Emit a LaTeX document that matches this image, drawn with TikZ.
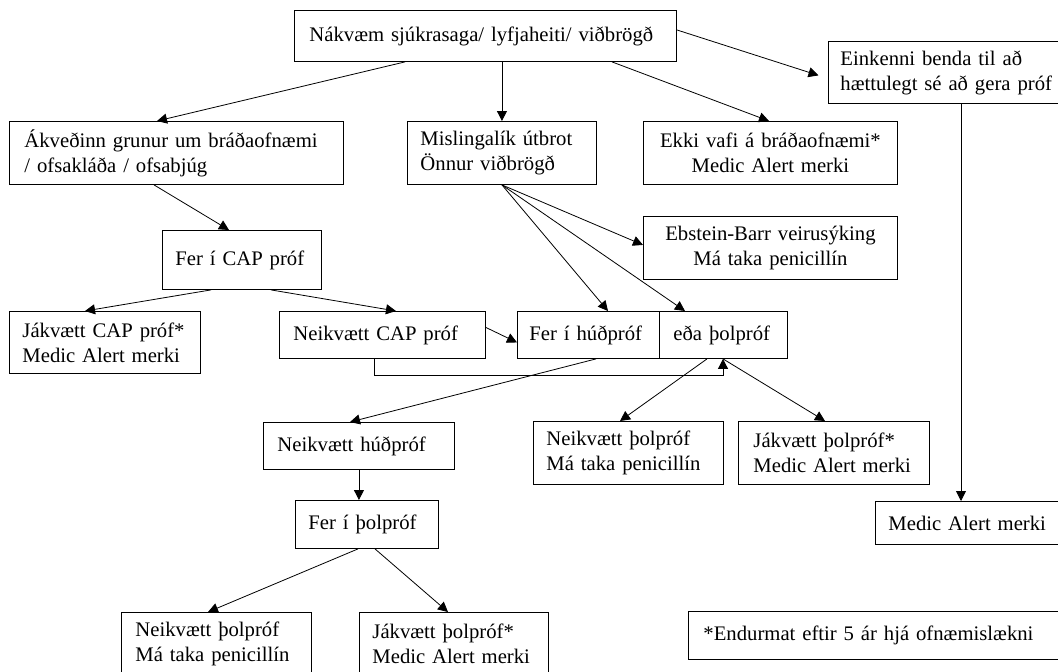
\documentclass[tikz,border=0pt]{standalone}
\usepackage{fontspec}
\setmainfont{Liberation Serif}
\usetikzlibrary{arrows.meta}

\begin{document}
\begin{tikzpicture}[
            x=1pt, y=-1pt,
            box/.style = {draw, line width=0.9pt, anchor=north west, align=left,
                          inner xsep=14pt, inner ysep=0pt, font=\fontsize{20.7}{25}\selectfont},
            cbox/.style = {box, align=center},
            openbox/.style = {box, draw=none},
            link/.style = {-{Triangle[length=10pt, width=10pt]}, line width=0.8pt},
        ]
            \useasboundingbox (0,0) rectangle (1058,672);

            % Top row
            \node[box, inner xsep=15pt, text width=352pt, minimum height=51pt] (hist) at (294,10) {Nákvæm sjúkrasaga/ lyfjaheiti/ viðbrögð};
            \node[box, inner xsep=12pt, text width=216pt, minimum height=62pt] (eink) at (828,41) {Einkenni benda til að\\hættulegt sé að gera próf};

            % Second row
            \node[box, inner xsep=15pt, text width=304pt, minimum height=63pt] (grun) at (9,121) {Ákveðinn grunur um bráðaofnæmi\\/ ofsakláða / ofsabjúg};
            \node[box, inner xsep=13pt, text width=163pt, minimum height=63pt] (mis) at (407,121) {Mislingalík útbrot\\Önnur viðbrögð};
            \node[cbox, text width=226pt, minimum height=63pt] (ekki) at (643,121) {Ekki vafi á bráðaofnæmi*\\Medic Alert merki};

            % CAP test and Epstein-Barr
            \node[box, inner xsep=13pt, text width=133pt, minimum height=59pt] (fcap) at (162,230) {Fer í CAP próf};
            \node[cbox, text width=226pt, minimum height=63pt] (ebst) at (643,216) {Ebstein-Barr veirusýking\\Má taka penicillín};

            % CAP results and skin / provocation test
            \node[box, inner xsep=13pt, text width=165pt, minimum height=62pt] (jcap) at (9,311) {Jákvætt CAP próf*\\Medic Alert merki};
            \node[box, text width=178pt, minimum height=47pt] (ncap) at (279,311) {Neikvætt CAP próf};
            \node[box, inner xsep=12pt, text width=118pt, minimum height=47pt] (hud) at (517,311) {Fer í húðpróf};
            \node[box, text width=100pt, minimum height=47pt] (thol) at (659,311) {eða þolpróf};

            % Provocation test results
            \node[box, inner xsep=13pt, text width=164pt, minimum height=63pt] (nthol) at (533,421) {Neikvætt þolpróf\\Má taka penicillín};
            \node[box, inner xsep=15pt, text width=161pt, minimum height=63pt] (jthol) at (738,421) {Jákvætt þolpróf*\\Medic Alert merki};

            % Negative skin test branch
            \node[box, text width=163pt, minimum height=47pt] (nhud) at (263,422) {Neikvætt húðpróf};
            \node[box, inner xsep=13pt, text width=117pt, minimum height=48pt] (fthol) at (295,500) {Fer í þolpróf};
            \node[openbox, text width=162pt, minimum height=63pt] (bnthol) at (121,612) {Neikvætt þolpróf\\Má taka penicillín};
            \node[openbox, inner xsep=13pt, text width=163pt, minimum height=63pt] (bjthol) at (359,612) {Jákvætt þolpróf*\\Medic Alert merki};
            % these two run past the lower edge
            \draw[line width=0.9pt] ([yshift=-10pt]bnthol.south west) |- (bnthol.north east) -- ([yshift=-10pt]bnthol.south east);
            \draw[line width=0.9pt] ([yshift=-10pt]bjthol.south west) |- (bjthol.north east) -- ([yshift=-10pt]bjthol.south east);

            % Right column
            \node[box, inner xsep=13pt, text width=174pt, minimum height=43pt] (medic) at (875,501) {Medic Alert merki};
            \node[box, inner xsep=15pt, text width=360pt, minimum height=48pt] (note) at (688,611) {*Endurmat eftir 5 ár hjá ofnæmislækni};

            % Arrows from history
            \draw[link] ([xshift=111pt]hist.south west) -- ([xshift=148pt]grun.north west);
            \draw[link] (hist.south -| mis.north) -- (mis.north);
            \draw[link] ([xshift=318pt]hist.south west) -- ([xshift=126pt]ekki.north west);
            \draw[link, shorten >=10pt] ([yshift=6pt]hist.east) -- ([yshift=-6pt]eink.west);

            % CAP branch
            \draw[link] ([xshift=145pt]grun.south west) -- ([xshift=67pt]fcap.north west);
            \draw[link] ([xshift=49pt]fcap.south west) -- ([xshift=76pt]jcap.north west);
            \draw[link] ([xshift=109pt]fcap.south west) -- ([xshift=117pt]ncap.north west);
            \draw[link] ([yshift=7.5pt]ncap.east) -- ([yshift=-7.5pt]hud.west);
            \draw[link] ([xshift=95pt]ncap.south west) -- ++(0,16) -| ([xshift=64pt]thol.south west);

            % Rash branch
            \draw[link] (mis.south) -- ([yshift=3pt]ebst.west);
            \draw[link] (mis.south) -- ([xshift=91pt]hud.north west);
            \draw[link] (mis.south) -- ([xshift=26pt]thol.north west);

            % Test results
            \draw[link] ([xshift=48pt]thol.south west) -- ([xshift=87pt]nthol.north west);
            \draw[link] ([xshift=64pt]thol.south west) -- ([xshift=87pt]jthol.north west);
            \draw[link] ([xshift=79pt]hud.south west) -- ([xshift=87pt]nhud.north west);
            \draw[link] (nhud.south) -- (nhud.south |- fthol.north);
            \draw[link] ([xshift=63pt]fthol.south west) -- ([xshift=87pt]bnthol.north west);
            \draw[link] ([xshift=80pt]fthol.south west) -- ([xshift=89pt]bjthol.north west);

            % Dangerous to test
            \draw[link] ([xshift=133pt]eink.south west) -- ([xshift=86pt]medic.north west);
        \end{tikzpicture}
\end{document}
